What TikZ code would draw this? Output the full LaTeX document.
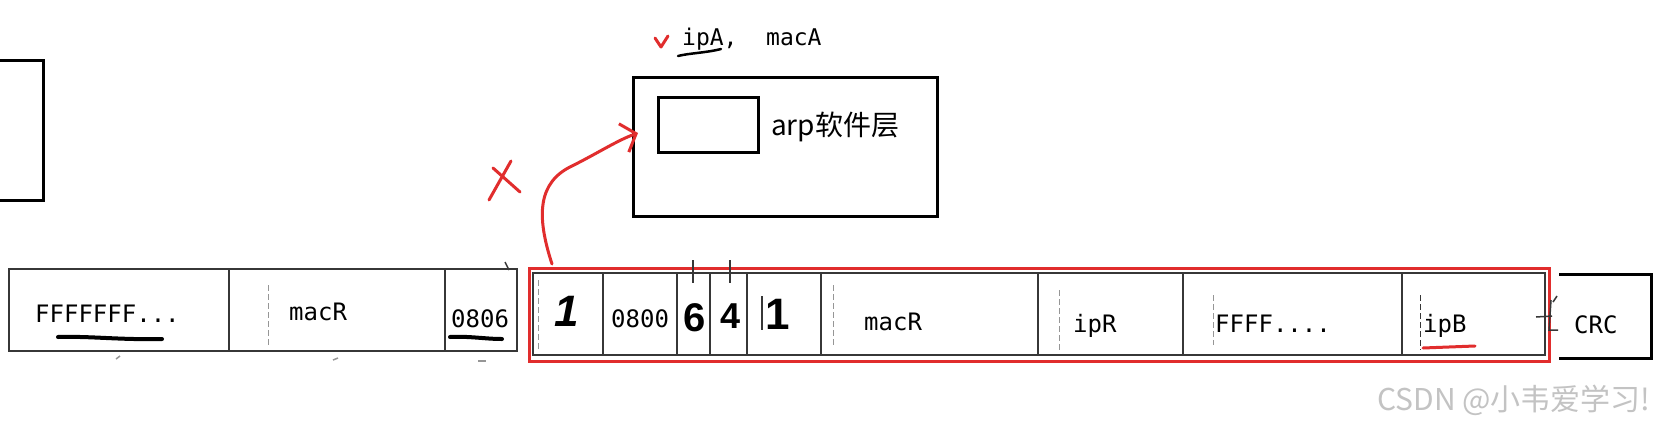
\documentclass[tikz,border=0pt]{standalone}
\usepackage{fontspec}
\setmainfont{Liberation Sans}
\newfontfamily\monofont{DejaVu Sans Mono}
\newfontfamily\cjkfont{Noto Sans CJK SC}
\usetikzlibrary{arrows.meta}
\definecolor{penred}{RGB}{225,45,45}
\definecolor{barline}{RGB}{55,55,55}
\definecolor{guideline}{RGB}{150,150,150}
\definecolor{wmark}{RGB}{195,195,195}
\begin{document}
\begin{tikzpicture}[x=1pt,y=-1pt,
  bar/.style={draw=barline, line width=2.5pt},
  guide/.style={draw=guideline, line width=0.8pt, dash pattern=on 6pt off 3pt},
  boxblk/.style={draw=black, line width=3pt, inner sep=0pt},
  lbl/.style={inner sep=0pt, anchor=base west, font=\monofont\fontsize{24}{28}\selectfont},
  hand/.style={inner sep=0pt, anchor=base, font=\bfseries\fontsize{40}{44}\selectfont},
  pen/.style={draw=penred, line width=3pt, line cap=round, line join=round},
  ink/.style={draw=black, line width=4pt, line cap=round},
  tick/.style={draw=barline, line width=1.5pt}]
\useasboundingbox (0,0) rectangle (1673,429);
\fill[white] (0,0) rectangle (1673,429);

% left partial box
\node[boxblk, minimum width=60pt, minimum height=140pt] (lbox) at (13,130) {};

% left bar (Ethernet header)
\draw[bar] (9,269) rectangle (517,351);
\draw[bar] (229,269) -- (229,351);
\draw[bar] (445,269) -- (445,351);
\draw[guide] (268,285) -- (268,345);
\draw[tick] (505,262) -- (509,270);
\draw[tick, draw=guideline] (116,359) -- (120,356);
\draw[tick, draw=guideline] (333,360) -- (338,358);
\draw[tick, draw=guideline] (478,361) -- (486,361);

\node[lbl] (ff) at (35,322) {FFFFFFF...};
\node[lbl] (macL) at (289,320) {macR};
\node[lbl] (t0806) at (451,327) {0806};
\draw[ink] (58,337) .. controls (90,336) and (120,340) .. (162,339);
\draw[ink] (450,337) .. controls (470,336) and (485,339) .. (502,339);

% red frame (ARP payload)
\node[draw=penred, line width=3pt, inner sep=0pt, minimum width=1020pt, minimum height=93pt] (frame) at (1039,314.5) {};
\draw[bar] (533,273) rectangle (1545,355);
\foreach \x in {603,677,710,747,821,1038,1183,1402} \draw[bar] (\x,273) -- (\x,355);
\draw[guide] (538,280) -- (538,350);
\draw[tick] (762,296) -- (762,330);
\draw[guide] (833,285) -- (833,345);
\draw[guide] (1059,290) -- (1059,350);
\draw[guide] (1213,295) -- (1213,345);
\draw[guide, draw=barline] (1420,295) -- (1420,350);
\draw[tick, line width=2pt] (693,260) -- (693,283);
\draw[tick, line width=2pt] (730,260) -- (730,283);

\node[hand, font=\bfseries\itshape\fontsize{44}{48}\selectfont] (h1) at (567,326) {1};
\node[lbl] (t0800) at (611,327) {0800};
\node[hand] (h6) at (695,331) {6};
\node[hand, font=\bfseries\fontsize{36}{40}\selectfont] (h4) at (731,328) {4};
\node[hand, font=\bfseries\fontsize{44}{48}\selectfont] (h1b) at (778,329) {1};
\node[lbl] (macM) at (864,330) {macR};
\node[lbl] (ipR) at (1073,332) {ipR};
\node[lbl] (ffff) at (1215,332) {FFFF....};
\node[lbl] (ipB) at (1423,332) {ipB};
\draw[pen] (1423,348) -- (1475,346);

% CRC
\draw[draw=black, line width=3pt] (1559,274) -- (1651,274) -- (1651,358) -- (1559,358);
\node[lbl] (crc) at (1574,333) {CRC};
\draw[tick] (1536,317) -- (1552,316);
\draw[tick] (1551,300) -- (1549,330) -- (1558,330);
\draw[tick] (1553,302) -- (1557,296);

% arp software layer
\node[boxblk, minimum width=304pt, minimum height=139pt] (arp) at (785,146.5) {};
\node[boxblk, minimum width=100pt, minimum height=55pt] (slot) at (708,124.5) {};
\node[inner sep=0pt, anchor=west, font=\cjkfont\fontsize{28}{32}\selectfont] (arptxt) at (771,127) {arp软件层};

\node[lbl, font=\monofont\fontsize{23}{26}\selectfont] (ipA) at (682,45) {ipA,};
\node[lbl, font=\monofont\fontsize{23}{26}\selectfont] (macA) at (766,45) {macA};
\draw[draw=black, line width=2.5pt, line cap=round] (678,56) .. controls (690,53) and (705,53) .. (721,49);
\draw[pen] (655,38) -- (661,47) -- (668,36);

% red cross and arrow
\draw[pen] (489,200) -- (511,161);
\draw[pen] (493,168) -- (520,192);
\coordinate (arrS) at (552,264);
\coordinate (arrE) at (638,133);
\draw[pen, -{Straight Barb[length=13pt,width=30pt,line width=3pt]}] (arrS) .. controls (536,215) and (538,182) .. (572,166) .. controls (598,153) and (618,140) .. (arrE);

% watermark
\node[inner sep=0pt, anchor=base west, text=wmark, font=\cjkfont\fontsize{30}{34}\selectfont] (wm) at (1377,410) {CSDN @小韦爱学习!};
\end{tikzpicture}
\end{document}
